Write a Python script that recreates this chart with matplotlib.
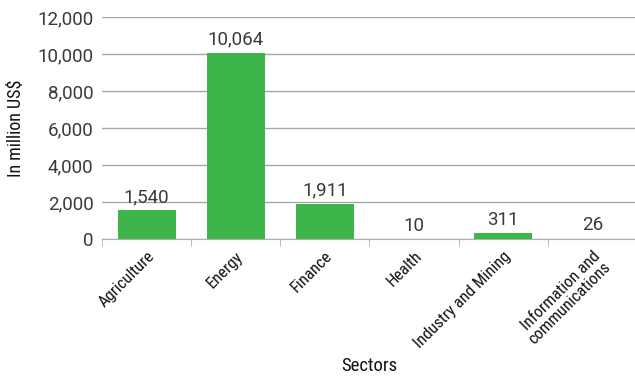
import matplotlib
matplotlib.use("Agg")
import matplotlib.pyplot as plt
from matplotlib import font_manager

sectors = ["Agriculture", "Energy", "Finance", "Health", "Industry and Mining",
           "Information and\ncommunications"]
values = [1540, 10064, 1911, 10, 311, 26]

# look for a narrow face for the category text
files = [f.fname for f in font_manager.fontManager.ttflist]
wanted = ["RobotoCondensed-Regular", "NotoSans-ExtraCondensed.", "NotoSans-Condensed.",
          "OpenSans-CondensedRegular", "OpenSans_Condensed-Regular",
          "LiberationSansNarrow-Regular", "DejaVuSansCondensed."]
narrow_file = None
for w in wanted:
    hits = [p for p in files if w in p.replace(" ", "")]
    if hits:
        narrow_file = hits[0]
        break


def narrow(size):
    if narrow_file:
        return font_manager.FontProperties(fname=narrow_file, size=size)
    return font_manager.FontProperties(family="DejaVu Sans", stretch="condensed", size=size)


fig = plt.figure(figsize=(6.35, 3.76), dpi=100)
ax = fig.add_axes([0.1606, 0.3644, 0.8425, 0.5904])

x = range(len(sectors))
ax.bar(x, values, width=0.65, color="#3db54a", zorder=3)
for i, v in zip(x, values):
    ax.text(i, v + 230, f"{v:,}", ha="center", va="bottom", fontsize=13.5,
            family="Roboto", color="#3a3a3a")

ax.set_xlim(-0.5, len(sectors) - 0.5)
ax.set_ylim(0, 12000)
ax.set_yticks(range(0, 12001, 2000))
ax.set_yticklabels([f"{t:,}" for t in range(0, 12001, 2000)], family="Roboto",
                   fontsize=13.5, color="#3a3a3a")
ax.yaxis.grid(True, color="#a8a8a8", linewidth=1, zorder=0)
ax.tick_params(axis="y", length=0, pad=6)

ax.set_xticks([i - 0.5 for i in x], minor=True)
ax.set_xticks(list(x))
ax.set_xticklabels(sectors, rotation=45, ha="right", rotation_mode="anchor",
                   fontproperties=narrow(12), color="#111111", linespacing=1.0)
ax.tick_params(axis="x", which="major", length=0, pad=7)
ax.tick_params(axis="x", which="minor", length=5, color="#b0b0b0", direction="out")

for s in ["top", "right", "left"]:
    ax.spines[s].set_visible(False)
ax.spines["bottom"].set_color("#b0b0b0")

ax.set_ylabel("In million US$", fontproperties=narrow(13), color="#111111",
              va="center")
ax.yaxis.set_label_coords(-0.16, 0.5)
ax.set_xlabel("Sectors", fontproperties=narrow(13.5), color="#111111", va="center")
ax.xaxis.set_label_coords(0.5, -0.57)

fig.savefig("out.png", dpi=100)
